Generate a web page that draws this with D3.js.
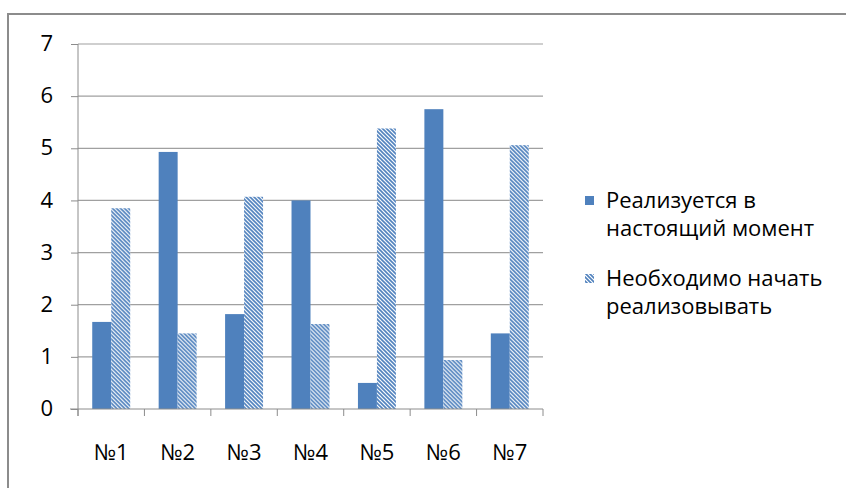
<!DOCTYPE html>
<html lang="ru">
<head>
<meta charset="UTF-8">
<title>Chart</title>
<script src="https://d3js.org/d3.v7.min.js"></script>
<style>
  body { margin: 0; background: #fff; }
  text { font-family: "Open Sans", "Liberation Sans", sans-serif; fill: #000; }
</style>
</head>
<body>
<svg id="chart" width="846" height="488"></svg>
<script>
// данные
const categories = ["№1", "№2", "№3", "№4", "№5", "№6", "№7"];
const seriesNames = ["Реализуется в настоящий момент", "Необходимо начать реализовывать"];
const current = [1.67, 4.93, 1.82, 4.0, 0.5, 5.75, 1.45];
const needed = [3.85, 1.45, 4.07, 1.63, 5.38, 0.94, 5.06];
const yTicks = [0, 1, 2, 3, 4, 5, 6, 7];

const blue = "#4F81BD";
const svg = d3.select("#chart");

// рамка
svg.append("path")
    .attr("d", "M8,488 V14 H846")
    .attr("fill", "none")
    .attr("stroke", "#8c8c8c")
    .attr("stroke-width", 2);

// штриховка
const defs = svg.append("defs");
const pat = defs.append("pattern")
    .attr("id", "hatch")
    .attr("patternUnits", "userSpaceOnUse")
    .attr("width", 4).attr("height", 4);
pat.append("rect").attr("width", 4).attr("height", 4).attr("fill", "#fff");
pat.append("path")
    .attr("d", "M-1,-1 L5,5 M-1,3 L1,5 M3,-1 L5,1")
    .attr("stroke", blue).attr("stroke-width", 1.6);

const x0 = d3.scaleBand().domain(categories).range([78, 543]);
const y = d3.scaleLinear().domain([0, 7]).range([409, 44]);
const barW = x0.bandwidth() / 3.5;

// сетка
svg.append("g").selectAll("line")
    .data(yTicks.slice(1))
    .join("line")
    .attr("x1", 78).attr("x2", 543)
    .attr("y1", d => y(d)).attr("y2", d => y(d))
    .attr("stroke", "#a0a0a0").attr("stroke-width", 1.2);

// бары
const groups = svg.append("g").selectAll("g")
    .data(categories)
    .join("g")
    .attr("transform", d => `translate(${x0(d) + x0.bandwidth() / 2 - barW},0)`);

groups.append("rect")
    .attr("x", 0)
    .attr("y", (d, i) => y(current[i]))
    .attr("width", barW)
    .attr("height", (d, i) => y(0) - y(current[i]))
    .attr("fill", blue);

groups.append("rect")
    .attr("x", barW)
    .attr("y", (d, i) => y(needed[i]))
    .attr("width", barW)
    .attr("height", (d, i) => y(0) - y(needed[i]))
    .attr("fill", "url(#hatch)");

// ось Y
const yAxis = svg.append("g")
    .attr("transform", "translate(78,0)")
    .call(d3.axisLeft(y).tickValues(yTicks).tickSize(7).tickPadding(18).tickFormat(d3.format("d")));
yAxis.select(".domain").attr("stroke", "#8c8c8c").attr("d", "M0,44 V416");
yAxis.selectAll(".tick line").attr("stroke", "#8c8c8c");
yAxis.selectAll("text").style("font-size", "22px").attr("fill", "#000").attr("dy", "0.3em");

// ось X
const xAxis = svg.append("g")
    .attr("transform", "translate(0,409)");
xAxis.append("line")
    .attr("x1", 70).attr("x2", 543)
    .attr("stroke", "#8c8c8c");
xAxis.selectAll(".tk")
    .data(categories.concat(["end"]))
    .join("line")
    .attr("x1", (d, i) => i < categories.length ? x0(d) : 543)
    .attr("x2", (d, i) => i < categories.length ? x0(d) : 543)
    .attr("y1", 0).attr("y2", 7)
    .attr("stroke", "#8c8c8c");
xAxis.selectAll("text")
    .data(categories)
    .join("text")
    .attr("x", d => x0(d) + x0.bandwidth() / 2)
    .attr("y", 51)
    .attr("text-anchor", "middle")
    .style("font-size", "22px")
    .text(d => d);

// легенда
const legend = svg.append("g");
const lines = [["Реализуется в", "настоящий момент"], ["Необходимо начать", "реализовывать"]];
lines.forEach((ln, i) => {
    const base = 208 + i * 78;
    legend.append("rect")
        .attr("x", 585).attr("y", base - 12)
        .attr("width", 9).attr("height", 9)
        .attr("fill", i === 0 ? blue : "url(#hatch)");
    ln.forEach((t, j) => {
        legend.append("text")
            .attr("x", 606).attr("y", base + j * 28)
            .style("font-size", "22px")
            .text(t);
    });
});
</script>
</body>
</html>
